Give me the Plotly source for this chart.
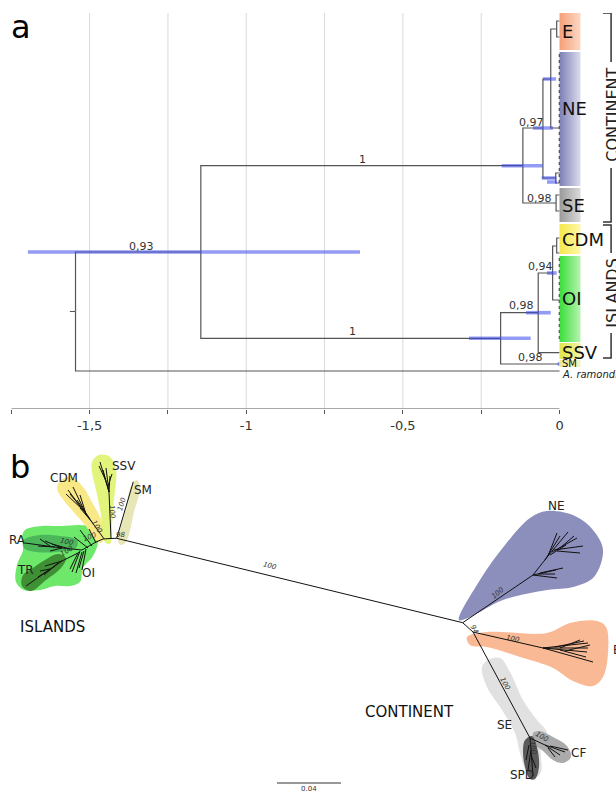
import plotly.graph_objects as go

W, H = 616, 792
FONT = "DejaVu Sans"

# ======================= Panel a : dated tree =======================
axis_ticks = [-1.75, -1.5, -1.25, -1.0, -0.75, -0.5, -0.25, 0.0]
axis_labels = ["", "-1,5", "", "-1", "", "-0,5", "", "0"]
grid_vals = [-1.5, -1.25, -1.0, -0.75, -0.5, -0.25]

# tree nodes: name -> (age, row position), parent
node_name = ["root", "ingroup", "ramondii", "continent", "islands", "A", "SEn", "EN", "Clow",
             "En", "NE", "E1", "E2", "SE1", "SE2", "C1", "C2", "I98", "SM", "I94", "SSV",
             "CDMn", "OI", "CDM1", "CDM2"]
node_age = [-1.545, -1.145, 0.0, -0.117, -0.188, -0.053, -0.011, -0.028, -0.012,
            -0.009, 0.0, 0.0, 0.0, 0.0, 0.0, 0.0, 0.0, -0.068, 0.0, -0.022, 0.0,
            -0.009, 0.0, 0.0, 0.0]
node_row = [311.5, 252, 371, 165.7, 338.3, 128, 203, 79, 178,
            29, 128, 21, 37, 195, 211, 173, 183, 312.7, 364, 273, 352.7,
            246, 300, 238, 253]
node_parent = [None, "root", "root", "ingroup", "ingroup", "continent", "continent", "A", "A",
               "EN", "EN", "En", "En", "SEn", "SEn", "Clow", "Clow", "islands", "islands", "I98", "I98",
               "I94", "I94", "CDMn", "CDMn"]

# 95% HPD bars (lower age, upper age, row)
hpd_lo = [-1.697, -0.1845, -0.0846, -0.0527, -0.057, -0.040, -0.289, -0.107, -0.040, -0.006]
hpd_hi = [-0.637, -0.0536, -0.0207, -0.011, -0.010, -0.008, -0.092, -0.028, -0.009, 0.0]
hpd_row = [252, 165.7, 128, 79, 178, 182, 338.3, 312.7, 273, 364]

# posterior supports
sup_text = ["0,93", "1", "1", "0,97", "0,98", "0,94", "0,98", "0,98"]
sup_x = [-1.333, -0.629, -0.662, -0.088, -0.065, -0.062, -0.121, -0.092]
sup_y = [246, 159, 331.5, 122, 198, 266.5, 305.5, 357]

# clade boxes
clade_name = ["E", "NE", "SE", "CDM", "OI", "SSV", "SM"]
clade_top = [13, 52, 188, 224, 256, 343, 360]
clade_bot = [50, 186, 222, 254, 342, 359, 367]
clade_lab_y = [31, 108, 205, 239, 298, 352, 363.5]
clade_lab_size = [18, 18, 18, 18, 18, 18, 10]
clade_col_l = ["#f6a078", "#7c80b4", "#9a9a9a", "#f4e84a", "#3ade3a", "#e0e64a", "#e8e89a"]
clade_col_r = ["#fcd8c4", "#dcdcee", "#dadada", "#fff8a8", "#b8f4b0", "#f2f4a4", "#f4f4c4"]

# ======================= Panel b : unrooted tree =======================
blob_name = ["OI", "RA", "TR", "CDM", "SSV", "SM", "NE", "E", "SE", "CF", "SPD"]
blob_color = ["#6ee86a", "#4bb65a", "#3f8f34", "#f8e886", "#e2f47c", "#e6e6b6",
              "#8c8ebb", "#f9b994", "#e1e1e1", "#ababab", "#5a5a5a"]
blob_x = [
    [25, 42, 62, 80, 93, 98, 93, 83, 80, 70, 55, 40, 24, 16, 17, 23, 22, 25],
    [24, 40, 60, 77, 76, 56, 36, 24, 24],
    [30, 45, 58, 66, 61, 46, 31, 22, 23, 30],
    [57, 62, 72, 83, 93, 101, 105, 101, 95, 85, 72, 62, 57],
    [92, 99, 110, 116, 114, 112, 110, 104, 101, 96, 92, 92],
    [118, 126, 131, 137, 140, 134, 126, 121, 118],
    [459, 480, 505, 530, 547, 575, 593, 603, 594, 573, 547, 503, 470, 459],
    [467, 487, 547, 570, 597, 606, 608, 603, 593, 573, 553, 520, 487, 470, 467],
    [482, 488, 500, 510, 523, 537, 547, 541, 541, 535, 527, 520, 515, 502, 487, 482],
    [533, 540, 553, 567, 571, 563, 553, 543, 535, 533],
    [525, 532, 537, 539, 535, 530, 525, 523, 525],
]
blob_y = [
    [530, 526, 526, 525, 528, 541, 556, 568, 582, 586, 586, 590, 590, 582, 565, 550, 537, 530],
    [540, 535, 536, 540, 548, 552, 552, 548, 540],
    [570, 560, 554, 558, 568, 580, 591, 586, 575, 570],
    [488, 479, 477, 487, 504, 519, 535, 543, 539, 525, 510, 498, 488],
    [462, 455, 457, 470, 500, 525, 544, 541, 515, 490, 472, 462],
    [541, 508, 486, 480, 488, 512, 542, 545, 541],
    [620, 580, 545, 518, 511, 516, 530, 550, 577, 587, 590, 600, 617, 620],
    [637, 632, 633, 623, 621, 627, 653, 677, 686, 681, 668, 657, 647, 645, 637],
    [667, 660, 658, 672, 700, 720, 733, 747, 772, 778, 773, 753, 733, 710, 687, 667],
    [733, 731, 737, 746, 757, 763, 760, 751, 744, 733],
    [740, 736, 747, 767, 779, 779, 767, 750, 740],
]

# branches (x0, y0, x1, y1) in tree-layout units
b_segments = [
    (116.7, 538.3, 462.7, 622.7),                     # island / continent
    (116.7, 538.3, 133.3, 481.7),                     # SM
    (116.7, 538.3, 110, 538.5), (110, 538.5, 103, 539), (103, 539, 96, 542),
    # SSV
    (111, 538.5, 109, 492), (109, 492, 100, 462), (109, 492, 103, 470), (109, 492, 110, 476),
    (106, 481, 99, 466), (108, 486, 112, 474), (109, 492, 106, 468),
    # CDM
    (104, 538.8, 86, 514), (86, 514, 68, 490), (86, 514, 73, 487), (86, 514, 80, 495),
    (80, 506, 70, 494), (92, 522, 80, 508), (90, 519, 77, 500), (83, 510, 66, 494),
    # OI / RA / TR
    (96, 542, 82, 550), (82, 550, 62, 548), (62, 548, 25, 543), (62, 548, 45, 541),
    (55, 547, 38, 546), (50, 546, 40, 539), (62, 548, 50, 551), (70, 549, 52, 544),
    (80, 552, 62, 561), (62, 561, 26, 586), (62, 561, 45, 566), (55, 566, 38, 577),
    (50, 569, 40, 571), (58, 563, 44, 575),
    (80, 551, 72, 572), (82, 552, 76, 573), (84, 551, 79, 568), (86, 549, 82, 570),
    (88, 548, 74, 537), (92, 546, 80, 530), (96, 543, 89, 529), (78, 553, 70, 569),
    # NE
    (462.7, 622.7, 533, 575), (533, 575, 548, 556), (548, 556, 557, 533), (548, 556, 568, 532),
    (552, 552, 577, 538), (554, 550, 583, 546), (557, 551, 580, 553), (533, 575, 556, 570),
    (540, 573, 563, 568), (533, 575, 557, 578), (545, 560, 560, 536), (560, 548, 574, 536),
    (550, 555, 566, 545), (538, 574, 555, 574),
    # E
    (462.7, 622.7, 473, 632), (473, 632, 543, 648), (543, 648, 588, 643), (543, 648, 588, 648),
    (543, 648, 587, 652), (543, 648, 593, 662), (560, 650, 586, 657), (560, 648, 580, 640),
    (565, 651, 590, 645), (555, 647, 584, 641),
    # SE / CF / SPD
    (473, 632, 530, 738), (530, 738, 545, 745), (545, 745, 565, 752), (545, 745, 560, 755),
    (550, 746, 568, 750), (548, 748, 555, 757), (530, 738, 531, 750), (531, 750, 533, 776),
    (531, 750, 528, 770), (531, 755, 536, 768), (529, 745, 526, 760),
]

b_labels = ["NE", "E", "SE", "CF", "SPD", "CDM", "SSV", "SM", "RA", "TR", "OI"]
b_lab_x = [556, 611, 504, 578, 522, 64, 124, 143, 17, 25, 88]
b_lab_y = [506, 650, 725, 753, 775, 478, 466, 490, 540, 570, 573]

boot_text = ["100", "100", "100", "94", "100", "100", "100", "100", "100", "100", "100", "100", "100", "98"]
boot_x = [270, 498, 513, 474, 505, 542, 533, 122, 112, 97, 90, 67, 67, 120]
boot_y = [566, 593, 639, 629, 684, 737, 748, 504, 512, 527, 537, 542, 551, 535]
boot_angle = [14, -40, 12, 60, 62, 30, 80, -72, 85, 58, -20, 12, -32, 0]

region_text = ["ISLANDS", "CONTINENT"]
region_x = [52, 409]
region_y = [627, 712]

scale_len = 64
scale_x0, scale_y0 = 277, 783

# ======================= Build figure =======================
fig = go.Figure()
XA = dict(xaxis="x", yaxis="y")
XB = dict(xaxis="x2", yaxis="y2")

# gridlines (panel a)
shapes = []
for g in grid_vals:
    shapes.append(dict(type="line", xref="x", yref="y", x0=g, x1=g, y0=13, y1=409,
                       line=dict(color="#d9d9d9", width=1), layer="below"))
# axis line
shapes.append(dict(type="line", xref="x", yref="y", x0=axis_ticks[0], x1=axis_ticks[-1],
                   y0=409, y1=409, line=dict(color="#555555", width=1.2)))

# tree edges (rectangular)
pos = {n: (a, r) for n, a, r in zip(node_name, node_age, node_row)}
ex, ey = [], []
for n, p in zip(node_name, node_parent):
    if p is None:
        continue
    px_, py_ = pos[p]
    cx, cy = pos[n]
    ex += [px_, px_, cx, None]
    ey += [py_, cy, cy, None]
# root stub
ex += [node_age[0] - 0.018, node_age[0], None]
ey += [node_row[0], node_row[0], None]
fig.add_trace(go.Scatter(x=ex, y=ey, mode="lines", line=dict(color="#555555", width=1.2),
                         hoverinfo="skip", **XA))

# dense tip combs for NE and OI
for top, bot in [(54, 184), (258, 340)]:
    fig.add_trace(go.Scatter(x=[0.0, 0.0], y=[top, bot], mode="lines",
                             line=dict(color="#333333", width=1.6, dash="dot"),
                             hoverinfo="skip", **XA))

# HPD bars
hx, hy = [], []
for lo, hi, r in zip(hpd_lo, hpd_hi, hpd_row):
    hx += [lo, hi, None]
    hy += [r, r, None]
fig.add_trace(go.Scatter(x=hx, y=hy, mode="lines", line=dict(color="rgba(60,72,235,0.55)", width=3.6),
                         hoverinfo="skip", **XA))

# clade boxes with gradient
for name, t, b, cl, cr in zip(clade_name, clade_top, clade_bot, clade_col_l, clade_col_r):
    fig.add_trace(go.Scatter(x=[0.0, 0.067, 0.067, 0.0, 0.0], y=[t, t, b, b, t], mode="lines",
                             line=dict(width=0), fill="toself",
                             fillgradient=dict(type="horizontal", colorscale=[[0, cl], [1, cr]]),
                             hoverinfo="skip", **XA))

annotations = []
for t, x, y in zip(sup_text, sup_x, sup_y):
    annotations.append(dict(text=t, x=x, y=y, xref="x", yref="y", showarrow=False,
                            font=dict(family=FONT, size=11, color="#333333")))
for name, y, s in zip(clade_name, clade_lab_y, clade_lab_size):
    annotations.append(dict(text=name, x=0.002, y=y, xref="x", yref="y", showarrow=False,
                            xanchor="left", font=dict(family=FONT, size=s, color="#111111")))
annotations.append(dict(text="<i>A. ramondii</i>", x=0.002, y=374.5, xref="x", yref="y",
                        showarrow=False, xanchor="left",
                        font=dict(family=FONT, size=10, color="#222222")))

# brackets at right
BX = 0.1646  # bracket column
TK = 0.026
br_x, br_y = [], []
for (t, g0, g1, b) in [(13, 62, 168, 222), (225, 253, 333, 358)]:
    br_x += [BX - TK, BX, BX, None, BX, BX, BX - TK, None]
    br_y += [t, t, g0, None, g1, b, b, None]
fig.add_trace(go.Scatter(x=br_x, y=br_y, mode="lines", line=dict(color="#333333", width=1.5),
                         hoverinfo="skip", **XA))
annotations.append(dict(text="CONTINENT", x=BX + 0.002, y=115, xref="x", yref="y", showarrow=False,
                        textangle=-90, font=dict(family=FONT, size=16, color="#222222")))
annotations.append(dict(text="ISLANDS", x=BX + 0.002, y=293, xref="x", yref="y", showarrow=False,
                        textangle=-90, font=dict(family=FONT, size=16, color="#222222")))

# ---------- panel b ----------
for xs, ys, c in zip(blob_x, blob_y, blob_color):
    fig.add_trace(go.Scatter(x=xs, y=ys, mode="lines", line=dict(width=0, shape="spline", smoothing=1),
                             fill="toself", fillcolor=c, hoverinfo="skip", **XB))
sx, sy = [], []
for x0, y0, x1, y1 in b_segments:
    sx += [x0, x1, None]
    sy += [y0, y1, None]
fig.add_trace(go.Scatter(x=sx, y=sy, mode="lines", line=dict(color="#111111", width=1),
                         hoverinfo="skip", **XB))
# scale bar
fig.add_trace(go.Scatter(x=[scale_x0, scale_x0 + scale_len], y=[scale_y0, scale_y0], mode="lines",
                         line=dict(color="#333333", width=1), hoverinfo="skip", **XB))
annotations.append(dict(text="0.04", x=scale_x0 + scale_len / 2, y=scale_y0 + 6, xref="x2", yref="y2",
                        showarrow=False, font=dict(family=FONT, size=7, color="#333333")))

for t, x, y in zip(b_labels, b_lab_x, b_lab_y):
    annotations.append(dict(text=t, x=x, y=y, xref="x2", yref="y2", showarrow=False,
                            xanchor="left" if t == "E" else "center",
                            font=dict(family=FONT, size=12, color="#222222")))
for t, x, y, a in zip(boot_text, boot_x, boot_y, boot_angle):
    annotations.append(dict(text="<i>" + t + "</i>", x=x, y=y, xref="x2", yref="y2", showarrow=False,
                            textangle=a, font=dict(family=FONT, size=7, color="#333333")))
for t, x, y in zip(region_text, region_x, region_y):
    annotations.append(dict(text=t, x=x, y=y, xref="x2", yref="y2", showarrow=False,
                            font=dict(family=FONT, size=15, color="#111111")))

# panel letters
annotations.append(dict(text="a", x=21 / W, y=1 - 27 / H, xref="paper", yref="paper", showarrow=False,
                        xanchor="center", yanchor="middle",
                        font=dict(family=FONT, size=32, color="#000000")))
annotations.append(dict(text="b", x=20 / W, y=1 - 467 / H, xref="paper", yref="paper", showarrow=False,
                        xanchor="center", yanchor="middle",
                        font=dict(family=FONT, size=32, color="#000000")))

x_left = 11.3
px_per_unit = 313.27
fig.update_layout(
    width=W, height=H, margin=dict(l=0, r=0, t=0, b=0),
    paper_bgcolor="white", plot_bgcolor="white", showlegend=False,
    shapes=shapes, annotations=annotations,
    xaxis=dict(domain=[x_left / W, 1.0], range=[-1.75, -1.75 + (W - x_left) / px_per_unit],
               tickvals=axis_ticks, ticktext=axis_labels, ticks="outside", ticklen=4,
               tickcolor="#555555", showgrid=False, zeroline=False, showline=False,
               tickfont=dict(family=FONT, size=13, color="#333333")),
    yaxis=dict(domain=[1 - 409 / H, 1 - 13 / H], range=[409, 13], visible=False),
    xaxis2=dict(domain=[0, 1], range=[0, W], visible=False),
    yaxis2=dict(domain=[0, 1 - 440 / H], range=[H, 440], visible=False),
)

fig.write_html("out.html", config={"displayModeBar": False},
               post_script="document.body.style.margin='0';document.body.style.overflow='hidden';")
